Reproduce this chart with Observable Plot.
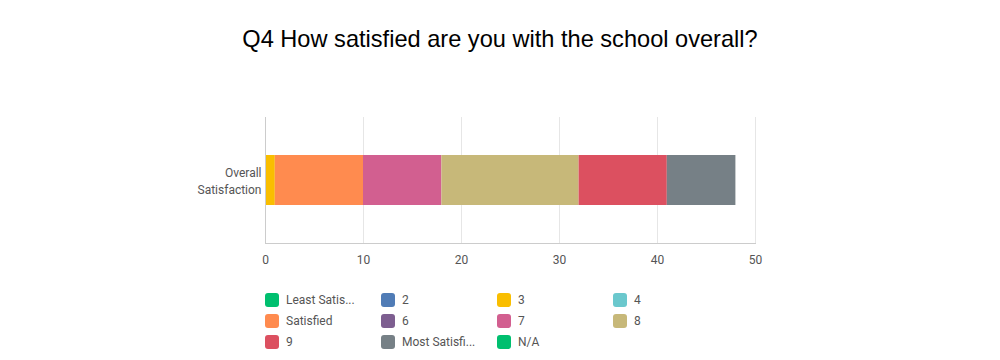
<!DOCTYPE html>
<html>
<head>
<meta charset="utf-8">
<script src="https://cdn.jsdelivr.net/npm/d3@7"></script>
<script src="https://cdn.jsdelivr.net/npm/@observablehq/plot@0.6"></script>
<style>
  html, body { margin: 0; padding: 0; background: #fff; }
  body { width: 1000px; height: 360px; overflow: hidden; position: relative; font-family: Roboto, "Open Sans", sans-serif; }
  #title { position: absolute; left: 0; top: 26px; width: 1000px; text-align: center; font-family: "Liberation Sans", Arial, sans-serif; font-size: 23.6px; color: #000; }
  #chart { position: absolute; left: 0; top: 80px; }
  #legend { position: absolute; left: 265px; top: 293px; }
  .item { position: absolute; display: flex; align-items: center; font-size: 12px; color: #555; white-space: nowrap; }
  .sw { width: 14px; height: 14px; border-radius: 3px; margin-right: 7px; }
</style>
</head>
<body>
<div id="title">Q4 How satisfied are you with the school overall?</div>
<div id="chart"></div>
<div id="legend"></div>
<script>
const rowLabel = "Overall Satisfaction";
const categories = ["Least Satisfied", "2", "3", "4", "Satisfied", "6", "7", "8", "9", "Most Satisfied", "N/A"];
const legendLabels = ["Least Satis...", "2", "3", "4", "Satisfied", "6", "7", "8", "9", "Most Satisfi...", "N/A"];
const values = [0, 0, 1, 0, 9, 0, 8, 14, 9, 7, 0];
const colors = ["#00bf6f", "#507cb6", "#f9be00", "#6bc8cd", "#ff8b4f", "#7d5e90", "#d25f90", "#c7b879", "#dc5060", "#768086", "#00bf6f"];
const xTicks = [0, 10, 20, 30, 40, 50];

const data = categories.map((c, i) => ({row: rowLabel, cat: c, value: values[i]}));

const plot = Plot.plot({
  width: 1000,
  height: 200,
  marginTop: 37,
  marginBottom: 37,
  marginLeft: 265,
  marginRight: 245,
  style: {fontFamily: "Roboto, 'Open Sans', sans-serif", fontSize: "12px", color: "#555"},
  x: {domain: [0, 50], ticks: xTicks, label: null},
  y: {domain: [rowLabel], padding: 0.43, label: null},
  color: {domain: categories, range: colors},
  marks: [
    Plot.ruleX(xTicks.slice(1), {stroke: "#e6e6e6", strokeWidth: 1}),
    Plot.barX(data, Plot.stackX({x: "value", y: "row", fill: "cat", order: categories})),
    Plot.ruleX([0], {stroke: "#cccccc", strokeWidth: 1}),
    Plot.frame({anchor: "bottom", stroke: "#cccccc", strokeWidth: 1}),
    Plot.axisX({ticks: xTicks, tickSize: 0, tickPadding: 12, fill: "#555", fontSize: 12, label: null}),
    Plot.axisY({tickSize: 0, tickPadding: 4, fill: "#555", fontSize: 12, label: null, tickFormat: d => d.replace(" ", "\n"), lineHeight: 1.4})
  ]
});
document.getElementById("chart").appendChild(plot);

const legend = document.getElementById("legend");
categories.forEach((c, i) => {
  const item = document.createElement("div");
  item.className = "item";
  item.style.left = (i % 4) * 116 + "px";
  item.style.top = Math.floor(i / 4) * 21 + "px";
  const sw = document.createElement("div");
  sw.className = "sw";
  sw.style.background = colors[i];
  const t = document.createElement("span");
  t.textContent = legendLabels[i];
  item.appendChild(sw);
  item.appendChild(t);
  legend.appendChild(item);
});
</script>
</body>
</html>
